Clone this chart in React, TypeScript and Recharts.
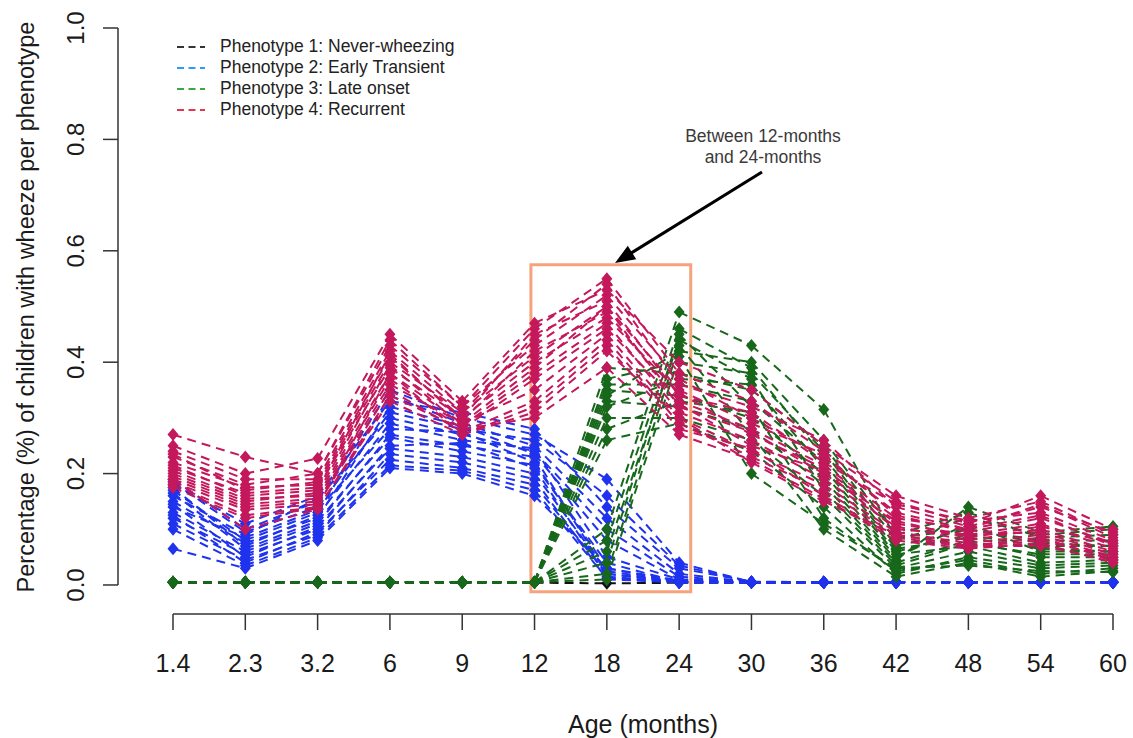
import React from 'react';
import { LineChart, Line, XAxis, YAxis, ReferenceLine, ReferenceArea, Legend } from 'recharts';

// Age points (months) along the x axis
const AGE_LABELS = ['1.4', '2.3', '3.2', '6', '9', '12', '18', '24', '30', '36', '42', '48', '54', '60'];
const Y_TICKS = [0, 0.2, 0.4, 0.6, 0.8, 1.0];

// Replicate trajectories per phenotype: proportion wheezing at each age
const NEVER_WHEEZING: number[][] = [
  [0.004, 0.004, 0.004, 0.004, 0.004, 0.004, 0.003, 0.004, 0.004, 0.004, 0.004, 0.004, 0.004, 0.004],
];

const EARLY_TRANSIENT: number[][] = [
  [0.19, 0.10, 0.15, 0.35, 0.30, 0.27, 0.19, 0.04, 0.005, 0.005, 0.005, 0.005, 0.005, 0.005],
  [0.18, 0.11, 0.16, 0.33, 0.31, 0.28, 0.14, 0.03, 0.006, 0.005, 0.005, 0.005, 0.005, 0.005],
  [0.17, 0.08, 0.13, 0.34, 0.29, 0.25, 0.12, 0.02, 0.005, 0.005, 0.005, 0.005, 0.005, 0.005],
  [0.185, 0.095, 0.14, 0.31, 0.28, 0.26, 0.16, 0.035, 0.005, 0.005, 0.005, 0.005, 0.005, 0.005],
  [0.16, 0.09, 0.155, 0.30, 0.27, 0.24, 0.10, 0.015, 0.005, 0.005, 0.005, 0.005, 0.005, 0.005],
  [0.15, 0.075, 0.12, 0.32, 0.285, 0.235, 0.08, 0.01, 0.005, 0.005, 0.005, 0.005, 0.005, 0.005],
  [0.175, 0.07, 0.125, 0.29, 0.26, 0.245, 0.05, 0.01, 0.005, 0.005, 0.005, 0.005, 0.005, 0.005],
  [0.14, 0.085, 0.135, 0.28, 0.275, 0.22, 0.03, 0.008, 0.005, 0.005, 0.005, 0.005, 0.005, 0.005],
  [0.13, 0.06, 0.11, 0.27, 0.25, 0.23, 0.02, 0.006, 0.005, 0.005, 0.005, 0.005, 0.005, 0.005],
  [0.165, 0.065, 0.115, 0.265, 0.24, 0.215, 0.04, 0.005, 0.005, 0.005, 0.005, 0.005, 0.005, 0.005],
  [0.12, 0.055, 0.10, 0.25, 0.255, 0.21, 0.015, 0.005, 0.005, 0.005, 0.005, 0.005, 0.005, 0.005],
  [0.145, 0.05, 0.105, 0.245, 0.23, 0.20, 0.025, 0.005, 0.005, 0.005, 0.005, 0.005, 0.005, 0.005],
  [0.11, 0.045, 0.09, 0.235, 0.22, 0.19, 0.01, 0.005, 0.005, 0.005, 0.005, 0.005, 0.005, 0.005],
  [0.125, 0.04, 0.095, 0.225, 0.21, 0.18, 0.02, 0.005, 0.005, 0.005, 0.005, 0.005, 0.005, 0.005],
  [0.10, 0.035, 0.085, 0.215, 0.205, 0.17, 0.012, 0.005, 0.005, 0.005, 0.005, 0.005, 0.005, 0.005],
  [0.065, 0.03, 0.08, 0.21, 0.20, 0.16, 0.03, 0.005, 0.005, 0.005, 0.005, 0.005, 0.005, 0.005],
];

const LATE_ONSET: number[][] = [
  [0.005, 0.005, 0.005, 0.005, 0.005, 0.005, 0.39, 0.38, 0.35, 0.25, 0.08, 0.12, 0.09, 0.10],
  [0.005, 0.005, 0.005, 0.005, 0.005, 0.005, 0.37, 0.40, 0.38, 0.24, 0.07, 0.10, 0.08, 0.08],
  [0.005, 0.005, 0.005, 0.005, 0.005, 0.005, 0.36, 0.36, 0.33, 0.22, 0.06, 0.09, 0.07, 0.07],
  [0.005, 0.005, 0.005, 0.005, 0.005, 0.005, 0.35, 0.34, 0.30, 0.20, 0.05, 0.11, 0.06, 0.06],
  [0.005, 0.005, 0.005, 0.005, 0.005, 0.005, 0.34, 0.42, 0.40, 0.26, 0.09, 0.13, 0.085, 0.09],
  [0.005, 0.005, 0.005, 0.005, 0.005, 0.005, 0.33, 0.32, 0.28, 0.18, 0.04, 0.08, 0.05, 0.05],
  [0.005, 0.005, 0.005, 0.005, 0.005, 0.005, 0.32, 0.37, 0.36, 0.21, 0.055, 0.07, 0.04, 0.045],
  [0.005, 0.005, 0.005, 0.005, 0.005, 0.005, 0.30, 0.30, 0.26, 0.16, 0.03, 0.06, 0.035, 0.04],
  [0.005, 0.005, 0.005, 0.005, 0.005, 0.005, 0.28, 0.33, 0.31, 0.19, 0.045, 0.14, 0.095, 0.105],
  [0.005, 0.005, 0.005, 0.005, 0.005, 0.005, 0.26, 0.29, 0.24, 0.14, 0.02, 0.05, 0.03, 0.035],
  [0.005, 0.005, 0.005, 0.005, 0.005, 0.005, 0.10, 0.49, 0.43, 0.315, 0.085, 0.10, 0.075, 0.07],
  [0.005, 0.005, 0.005, 0.005, 0.005, 0.005, 0.08, 0.46, 0.39, 0.23, 0.065, 0.085, 0.065, 0.06],
  [0.005, 0.005, 0.005, 0.005, 0.005, 0.005, 0.06, 0.44, 0.37, 0.17, 0.035, 0.075, 0.055, 0.055],
  [0.005, 0.005, 0.005, 0.005, 0.005, 0.005, 0.04, 0.45, 0.32, 0.12, 0.025, 0.045, 0.02, 0.03],
  [0.005, 0.005, 0.005, 0.005, 0.005, 0.005, 0.02, 0.43, 0.27, 0.10, 0.015, 0.04, 0.015, 0.025],
  [0.005, 0.005, 0.005, 0.005, 0.005, 0.005, 0.01, 0.41, 0.20, 0.11, 0.03, 0.035, 0.025, 0.023],
];

const RECURRENT: number[][] = [
  [0.27, 0.23, 0.20, 0.44, 0.32, 0.46, 0.55, 0.38, 0.33, 0.24, 0.15, 0.11, 0.16, 0.10],
  [0.25, 0.20, 0.227, 0.45, 0.33, 0.47, 0.53, 0.40, 0.35, 0.25, 0.16, 0.12, 0.15, 0.09],
  [0.24, 0.19, 0.19, 0.42, 0.31, 0.44, 0.54, 0.36, 0.32, 0.26, 0.14, 0.105, 0.14, 0.095],
  [0.23, 0.18, 0.20, 0.43, 0.32, 0.43, 0.52, 0.37, 0.30, 0.23, 0.13, 0.10, 0.145, 0.085],
  [0.235, 0.17, 0.185, 0.41, 0.30, 0.45, 0.51, 0.34, 0.31, 0.22, 0.145, 0.115, 0.13, 0.08],
  [0.22, 0.175, 0.18, 0.40, 0.31, 0.41, 0.50, 0.35, 0.29, 0.235, 0.125, 0.095, 0.12, 0.075],
  [0.215, 0.16, 0.17, 0.415, 0.295, 0.42, 0.49, 0.33, 0.28, 0.215, 0.12, 0.10, 0.125, 0.07],
  [0.21, 0.165, 0.175, 0.39, 0.30, 0.40, 0.48, 0.345, 0.27, 0.21, 0.11, 0.09, 0.11, 0.065],
  [0.205, 0.155, 0.16, 0.38, 0.29, 0.39, 0.50, 0.32, 0.275, 0.20, 0.115, 0.085, 0.105, 0.075],
  [0.20, 0.15, 0.165, 0.395, 0.285, 0.38, 0.47, 0.31, 0.26, 0.19, 0.105, 0.08, 0.10, 0.06],
  [0.195, 0.145, 0.155, 0.37, 0.28, 0.37, 0.46, 0.325, 0.25, 0.205, 0.10, 0.09, 0.095, 0.055],
  [0.19, 0.14, 0.15, 0.36, 0.29, 0.35, 0.45, 0.30, 0.24, 0.18, 0.095, 0.075, 0.09, 0.05],
  [0.185, 0.135, 0.145, 0.35, 0.275, 0.33, 0.44, 0.29, 0.23, 0.17, 0.09, 0.07, 0.085, 0.045],
  [0.18, 0.125, 0.14, 0.38, 0.27, 0.32, 0.43, 0.28, 0.245, 0.16, 0.085, 0.068, 0.08, 0.05],
  [0.19, 0.10, 0.136, 0.34, 0.28, 0.30, 0.39, 0.27, 0.225, 0.155, 0.08, 0.065, 0.075, 0.04],
  [0.175, 0.12, 0.138, 0.33, 0.27, 0.31, 0.42, 0.30, 0.22, 0.15, 0.09, 0.07, 0.07, 0.045],
];

const PHENOTYPES = [
  { key: 'p1', name: 'Phenotype 1: Never-wheezing', color: '#111111', legendColor: '#333333', rows: NEVER_WHEEZING },
  { key: 'p2', name: 'Phenotype 2: Early Transient', color: '#1f33ee', legendColor: '#2f9bf5', rows: EARLY_TRANSIENT },
  { key: 'p3', name: 'Phenotype 3: Late onset', color: '#17681a', legendColor: '#3aa845', rows: LATE_ONSET },
  { key: 'p4', name: 'Phenotype 4: Recurrent', color: '#c4185c', legendColor: '#e2374f', rows: RECURRENT },
];

// Highlighted window between the 12- and 24-month points
const WINDOW = { x1: 4.95, x2: 7.16, y1: -0.012, y2: 0.575 };
const ARROW = { from: { x: 8.146, y: 0.7415 }, to: { x: 6.113, y: 0.578 } };
const NOTE_LINES = ['Between 12-months', 'and 24-months'];

const X_MIN = -0.7606;
const X_MAX = 13.166;
const Y_MIN = -0.0521;

const FONT = "'Liberation Sans', Arial, Helvetica, sans-serif";

const data = AGE_LABELS.map((age, i) => {
  const row: Record<string, number | string> = { idx: i, age };
  PHENOTYPES.forEach((p) => {
    p.rows.forEach((traj, k) => {
      row[`${p.key}_${k}`] = traj[i];
    });
  });
  return row;
});

// Draws each point-to-point segment as its own subpath so the dash
// pattern restarts at every age point.
const segmentCurve = (context: any) => {
  let prev: [number, number] | null = null;
  return {
    areaStart() {},
    areaEnd() {},
    lineStart() {
      prev = null;
    },
    lineEnd() {},
    point(x: number, y: number) {
      const px = +x;
      const py = +y;
      if (prev) {
        context.moveTo(prev[0], prev[1]);
        context.lineTo(px, py);
      }
      prev = [px, py];
    },
  };
};

const diamond = (color: string) => (props: any) => {
  const { cx, cy, index } = props;
  if (cx == null || cy == null) return <g key={`e-${index}`} />;
  return (
    <path
      key={`d-${index}`}
      d={`M${cx} ${cy - 6.5}L${cx + 5.5} ${cy}L${cx} ${cy + 6.5}L${cx - 5.5} ${cy}Z`}
      fill={color}
    />
  );
};

const YTick = (props: any) => {
  const { x, y, payload } = props;
  return (
    <g transform={`translate(${x - 17},${y}) rotate(-90)`}>
      <text x={0} y={0} textAnchor="middle" fontSize={24} fill="#1a1a1a" fontFamily={FONT}>
        {Number(payload.value).toFixed(1)}
      </text>
    </g>
  );
};

const YTitle = () => (
  <g transform="translate(34,307) rotate(-90)">
    <text x={0} y={0} textAnchor="middle" fontSize={23.5} fill="#1a1a1a" fontFamily={FONT}>
      Percentage (%) of children with wheeze per phenotype
    </text>
  </g>
);

const XTitle = () => (
  <text x={643} y={733} textAnchor="middle" fontSize={25} fill="#1a1a1a" fontFamily={FONT}>
    Age (months)
  </text>
);

const ArrowShape = (props: any) => {
  const { x1, y1, x2, y2 } = props;
  const dx = x2 - x1;
  const dy = y2 - y1;
  const len = Math.sqrt(dx * dx + dy * dy) || 1;
  const ux = dx / len;
  const uy = dy / len;
  const head = 20;
  const half = 8;
  const bx = x2 - ux * head;
  const by = y2 - uy * head;
  return (
    <g>
      <line x1={x1} y1={y1} x2={x2 - ux * (head - 4)} y2={y2 - uy * (head - 4)} stroke="#000" strokeWidth={3} />
      <polygon
        points={`${x2},${y2} ${bx - uy * half},${by + ux * half} ${bx + uy * half},${by - ux * half}`}
        fill="#000"
      />
      <text x={x1 + 1} y={y1 - 30} textAnchor="middle" fontSize={17.5} fill="#3a3a3a" fontFamily={FONT}>
        {NOTE_LINES[0]}
      </text>
      <text x={x1 + 1} y={y1 - 9} textAnchor="middle" fontSize={17.5} fill="#3a3a3a" fontFamily={FONT}>
        {NOTE_LINES[1]}
      </text>
    </g>
  );
};

const LegendBox = () => (
  <div style={{ fontFamily: FONT }}>
    {PHENOTYPES.map((p) => (
      <div key={p.key} style={{ display: 'flex', alignItems: 'center', height: 21 }}>
        <svg width={28} height={6} style={{ display: 'block' }}>
          <line x1={0} y1={3} x2={28} y2={3} stroke={p.legendColor} strokeWidth={2} strokeDasharray="7 4.5" />
        </svg>
        <span style={{ marginLeft: 15, fontSize: 17.5, color: '#222', whiteSpace: 'nowrap', lineHeight: '21px' }}>
          {p.name}
        </span>
      </div>
    ))}
  </div>
);

export default function App() {
  return (
    <div style={{ position: 'absolute', left: 0, top: 0, width: 1133, height: 738, background: '#fff' }}>
      <LineChart width={1133} height={738} data={data} margin={{ top: 28, right: 8, bottom: 0, left: 0 }}>
        <XAxis
          type="number"
          dataKey="idx"
          domain={[X_MIN, X_MAX]}
          allowDataOverflow
          ticks={AGE_LABELS.map((_, i) => i)}
          interval={0}
          tickFormatter={(v: number) => AGE_LABELS[v] ?? ''}
          axisLine={false}
          tickLine={{ stroke: '#333', strokeWidth: 1.5 }}
          tickSize={16}
          tickMargin={24}
          height={124}
          tick={{ fontSize: 25, fill: '#1a1a1a', fontFamily: FONT }}
          label={{ content: () => <XTitle /> }}
        />
        <YAxis
          type="number"
          domain={[Y_MIN, 1]}
          allowDataOverflow
          ticks={Y_TICKS}
          interval={0}
          width={118}
          axisLine={false}
          tickLine={{ stroke: '#333', strokeWidth: 1.5 }}
          tickSize={15}
          tick={<YTick />}
          label={{ content: () => <YTitle /> }}
        />
        <ReferenceLine
          segment={[{ x: X_MIN, y: 0 }, { x: X_MIN, y: 1 }]}
          stroke="#333"
          strokeWidth={1.5}
          ifOverflow="visible"
        />
        <ReferenceLine
          segment={[{ x: 0, y: Y_MIN }, { x: AGE_LABELS.length - 1, y: Y_MIN }]}
          stroke="#333"
          strokeWidth={1.5}
          ifOverflow="visible"
        />
        {PHENOTYPES.map((p) =>
          p.rows.map((_, k) => (
            <Line
              key={`${p.key}_${k}`}
              type={segmentCurve as any}
              dataKey={`${p.key}_${k}`}
              stroke={p.color}
              strokeWidth={2}
              strokeDasharray="9 6"
              dot={diamond(p.color)}
              activeDot={false}
              legendType="none"
              isAnimationActive={false}
            />
          ))
        )}
        <ReferenceArea
          x1={WINDOW.x1}
          x2={WINDOW.x2}
          y1={WINDOW.y1}
          y2={WINDOW.y2}
          ifOverflow="visible"
          fill="none"
          fillOpacity={0}
          stroke="#f6a27c"
          strokeWidth={3}
        />
        <ReferenceLine
          segment={[ARROW.from, ARROW.to]}
          ifOverflow="visible"
          shape={<ArrowShape />}
        />
        <Legend
          layout="vertical"
          align="center"
          verticalAlign="middle"
          wrapperStyle={{ position: 'absolute', top: 36, left: 177, width: 320 }}
          content={() => <LegendBox />}
        />
      </LineChart>
    </div>
  );
}
